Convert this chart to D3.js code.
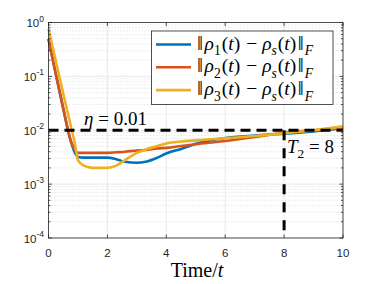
<!DOCTYPE html>
<html><head><meta charset="utf-8">
<script src="https://cdn.jsdelivr.net/npm/d3@7"></script>
<style>body{margin:0;background:#fff}svg{display:block}</style>
</head><body><svg id="c" width="379" height="284"></svg>
<script>
const time   = [0, 0.25, 0.5, 0.75, 0.9, 1.0, 1.2, 1.5, 2.0, 2.3, 2.6, 3.0, 3.3, 3.7, 4.0, 4.5, 5.0, 6.0, 7.0, 8.0, 9.0, 10.0];
const rho1   = [0.50, 0.11, 0.025, 0.0065, 0.0038, 0.0032, 0.0031, 0.0031, 0.0031, 0.0029, 0.0026, 0.0025, 0.0026, 0.0031, 0.0037, 0.0045, 0.0056, 0.0072, 0.0080, 0.0086, 0.0095, 0.011];
const rho2   = [0.49, 0.11, 0.026, 0.0065, 0.0043, 0.0038, 0.0038, 0.0038, 0.0038, 0.0039, 0.0040, 0.0042, 0.0043, 0.0046, 0.0047, 0.0051, 0.0055, 0.0063, 0.0075, 0.0090, 0.0100, 0.011];
const rho3   = [0.76, 0.19, 0.048, 0.0125, 0.0055, 0.0028, 0.0022, 0.0020, 0.0020, 0.0022, 0.0028, 0.0038, 0.0044, 0.0051, 0.0057, 0.0062, 0.0065, 0.0071, 0.0078, 0.0088, 0.0100, 0.0118];
const seriesNames = ["1", "2", "3"];
const seriesColors = ["#0072BD", "#D95319", "#EDB120"];
const xTicks = [0, 2, 4, 6, 8, 10];
const yTickExps = [0, -1, -2, -3, -4];
const eta = 0.01;
const T2 = 8;

const svg = d3.select("#c");
const L = 48.5, R = 343, T = 22.5, B = 238;
const x = d3.scaleLinear().domain([0, 10]).range([L, R]);
const y = d3.scaleLog().domain([1e-4, 1]).range([B, T]);

// minor grid
const minor = [];
for (let e = -4; e < 0; e++) for (let k = 2; k <= 9; k++) minor.push(k * Math.pow(10, e));
svg.append("g").selectAll("line").data(minor).join("line")
  .attr("x1", L).attr("x2", R).attr("y1", d => y(d)).attr("y2", d => y(d))
  .attr("stroke", "#d4d4d4").attr("stroke-width", 0.8).attr("stroke-dasharray", "1,2");
// major grid
svg.append("g").selectAll("line").data(yTickExps.map(e => Math.pow(10, e))).join("line")
  .attr("x1", L).attr("x2", R).attr("y1", d => y(d)).attr("y2", d => y(d))
  .attr("stroke", "#e3e3e3").attr("stroke-width", 0.8);
svg.append("g").selectAll("line").data(xTicks).join("line")
  .attr("x1", d => x(d)).attr("x2", d => x(d)).attr("y1", T).attr("y2", B)
  .attr("stroke", "#e3e3e3").attr("stroke-width", 0.8);

// curves
const series = [rho1, rho2, rho3];
const line = d3.line().x((d, i) => x(time[i])).y(d => y(d)).curve(d3.curveMonotoneX);
series.forEach((s, i) => {
  svg.append("path").datum(s).attr("d", line).attr("fill", "none")
    .attr("stroke", seriesColors[i]).attr("stroke-width", 2.6).attr("stroke-linejoin", "round");
});

// dashed lines
svg.append("line").attr("x1", x(0)).attr("x2", x(10)).attr("y1", y(eta)).attr("y2", y(eta))
  .attr("stroke", "#000").attr("stroke-width", 3).attr("stroke-dasharray", "10,6");
svg.append("line").attr("x1", x(T2)).attr("x2", x(T2)).attr("y1", y(eta)).attr("y2", y(1e-4))
  .attr("stroke", "#000").attr("stroke-width", 3).attr("stroke-dasharray", "10,8");

// axes box & ticks
const ax = svg.append("g").attr("stroke", "#262626").attr("stroke-width", 0.8).attr("fill", "none");
ax.append("rect").attr("x", L).attr("y", T).attr("width", R - L).attr("height", B - T);
xTicks.forEach(t => {
  ax.append("line").attr("x1", x(t)).attr("x2", x(t)).attr("y1", B).attr("y2", B - 3.5);
  ax.append("line").attr("x1", x(t)).attr("x2", x(t)).attr("y1", T).attr("y2", T + 3.5);
});
yTickExps.forEach(e => {
  const v = Math.pow(10, e);
  ax.append("line").attr("x1", L).attr("x2", L + 3.5).attr("y1", y(v)).attr("y2", y(v));
  ax.append("line").attr("x1", R).attr("x2", R - 3.5).attr("y1", y(v)).attr("y2", y(v));
});
minor.forEach(v => {
  ax.append("line").attr("x1", L).attr("x2", L + 2).attr("y1", y(v)).attr("y2", y(v));
  ax.append("line").attr("x1", R).attr("x2", R - 2).attr("y1", y(v)).attr("y2", y(v));
});

// tick labels
const tf = "'Liberation Sans', Arial, sans-serif";
svg.append("g").selectAll("text").data(xTicks).join("text")
  .attr("x", d => x(d)).attr("y", 257).attr("text-anchor", "middle")
  .attr("font-family", tf).attr("font-size", 11.5).attr("fill", "#262626").text(d => d);
yTickExps.forEach(e => {
  const t = svg.append("text").attr("x", 44).attr("y", y(Math.pow(10, e)) + 4.5)
    .attr("text-anchor", "end").attr("font-family", tf).attr("font-size", 11.5).attr("fill", "#262626");
  t.append("tspan").text("10");
  t.append("tspan").attr("dy", -5.5).attr("font-size", 8.5).text(String(e));
});

// math-ish text helper
const sf = "'Liberation Serif', 'Times New Roman', serif";
function mathText(g, xx, yy, parts, size, anchor) {
  const t = g.append("text").attr("x", xx).attr("y", yy).attr("font-family", sf)
    .attr("font-size", size).attr("fill", "#000").attr("text-anchor", anchor || "start")
    .style("white-space", "pre");
  let cur = 0;
  parts.forEach(p => {
    const target = p.sub ? size * 0.28 : 0;
    const ts = t.append("tspan").text(p.t);
    if (target !== cur) { ts.attr("dy", target - cur); cur = target; }
    if (p.i) ts.attr("font-style", "italic");
    if (p.sub) ts.attr("font-size", size * 0.7);
    if (p.big) ts.attr("font-size", size * 1.1);
    if (p.dx) ts.attr("dx", p.dx);
  });
  return t;
}

// legend
const lg = svg.append("g");
lg.append("rect").attr("x", 151.5).attr("y", 31).attr("width", 181.5).attr("height", 73.5)
  .attr("fill", "#fff").attr("stroke", "#262626").attr("stroke-width", 0.8);
seriesNames.forEach((n, i) => {
  const yy = 44.5 + i * 22.8;
  lg.append("line").attr("x1", 156).attr("x2", 191).attr("y1", yy).attr("y2", yy)
    .attr("stroke", seriesColors[i]).attr("stroke-width", 2.6);
  mathText(lg, 197, yy + 5, [
    {t: "\u2016", big: 1}, {t: "\u03C1", i: 1, dx: 1.5}, {t: n, sub: 1}, {t: "(", dx: 1}, {t: "t", i: 1}, {t: ")"},
    {t: "\u2212", dx: 6}, {t: "\u03C1", i: 1, dx: 5}, {t: "s", i: 1, sub: 1}, {t: "(", dx: 1}, {t: "t", i: 1}, {t: ")"},
    {t: "\u2016", big: 1, dx: 1.5}, {t: "F", i: 1, sub: 1, dx: 1}
  ], 19.5);
});

// annotations
mathText(svg, 84, 125, [{t: "\u03B7", i: 1}, {t: " = 0.01"}], 19);
mathText(svg, 287, 152.5, [{t: "T", i: 1}, {t: "2", sub: 1}, {t: " = 8"}], 19);

// x label
mathText(svg, 197, 276.5, [{t: "Time/"}, {t: "t", i: 1}], 20, "middle");
</script></body></html>
